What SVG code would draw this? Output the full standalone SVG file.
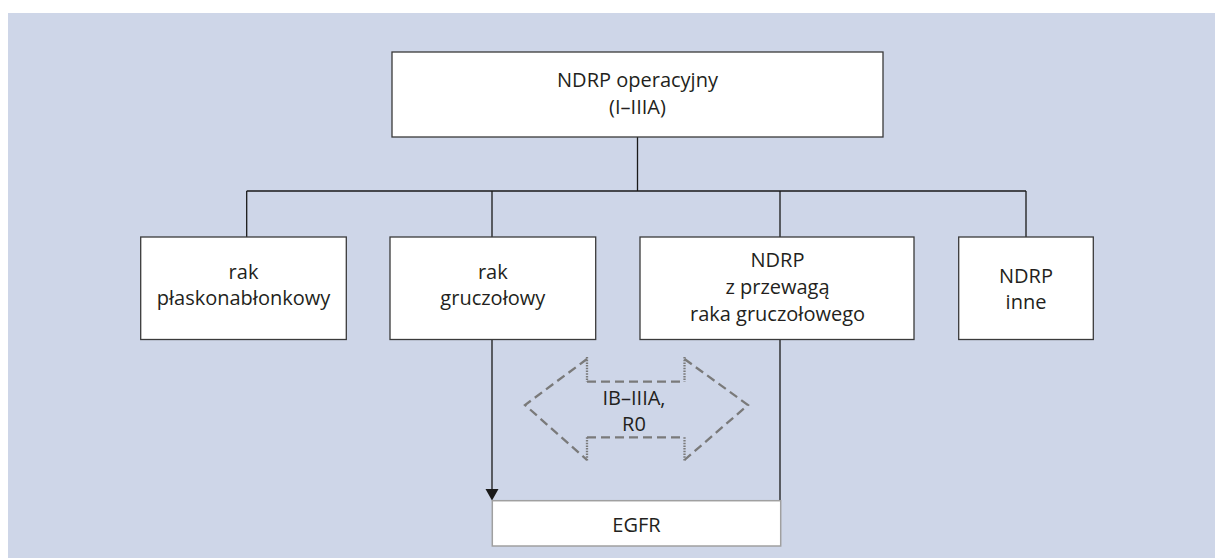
<svg xmlns="http://www.w3.org/2000/svg" width="1215" height="558" viewBox="0 0 1215 558">
<defs>
<style>
.box{fill:#fff;stroke:#3a3a3a;stroke-width:1.3}
.egfr{fill:#fff;stroke:#a0a0a0;stroke-width:1.5}
.t{font-family:"Open Sans","Noto Sans",sans-serif;font-size:20px;fill:#231f20;text-anchor:middle}
.ln{fill:none;stroke:#1a1a1a;stroke-width:1.3}
.dash{fill:none;stroke:#7a7a7a;stroke-width:2.3;stroke-dasharray:9 5}
.dot{fill:none;stroke:#7a7a7a;stroke-width:2.3;stroke-dasharray:1.5 1.2}
</style>
<marker id="ah" markerWidth="13" markerHeight="12" refX="6.5" refY="11" orient="auto-start-reverse" markerUnits="userSpaceOnUse" viewBox="0 0 13 12">
<path d="M0,0 L13,0 L6.5,11 Z" fill="#1a1a1a"/>
</marker>
</defs>
<rect x="8" y="13" width="1207" height="545" fill="#ced6e8"/>
<g id="connectors">
<path class="ln" d="M637.5,137 V191 M246.7,191 H1026 M246.7,191 V237 M492,191 V237 M780,191 V237 M1026,191 V237"/>
<path class="ln" d="M780,339.5 V500.7"/>
<line x1="492" y1="339.5" x2="492" y2="489" class="ln"/>
<path d="M485.5,489 L498.5,489 L492,500.5 Z" fill="#1a1a1a"/>
</g>
<g id="root">
<rect class="box" x="392" y="52" width="491" height="85"/>
<text class="t" x="637.5" y="86.7">NDRP operacyjny</text>
<text class="t" x="637.5" y="114">(I–IIIA)</text>
</g>
<g id="n1">
<rect class="box" x="140.7" y="237" width="205.6" height="102.5"/>
<text class="t" x="243.5" y="278.5">rak</text>
<text class="t" x="243.5" y="305">płaskonabłonkowy</text>
</g>
<g id="n2">
<rect class="box" x="390" y="237" width="205.7" height="102.5"/>
<text class="t" x="492.8" y="278.5">rak</text>
<text class="t" x="492.8" y="305">gruczołowy</text>
</g>
<g id="n3">
<rect class="box" x="640" y="237" width="274" height="102.5"/>
<text class="t" x="777.5" y="266.7">NDRP</text>
<text class="t" x="777.5" y="293.5">z przewagą</text>
<text class="t" x="777.5" y="320.5">raka gruczołowego</text>
</g>
<g id="n4">
<rect class="box" x="958.7" y="237" width="134.6" height="102.5"/>
<text class="t" x="1026" y="283">NDRP</text>
<text class="t" x="1026" y="308.5">inne</text>
</g>
<g id="egfr">
<rect class="egfr" x="492.3" y="500.7" width="288.4" height="45.3"/>
<text class="t" x="636.5" y="531.5">EGFR</text>
</g>
<g id="stage">
<path class="dash" d="M587,359 L525,405 L587,460"/>
<path class="dash" d="M684.5,359 L748,405 L684.5,460"/>
<path class="dash" d="M587,381.7 H684.5 M587,437.3 H684.5"/>
<path class="dot" d="M587,357 V381.7 M684.5,357 V381.7 M587,437.3 V461.5 M684.5,437.3 V461.5"/>
<text class="t" x="634" y="404.5">IB–IIIA,</text>
<text class="t" x="634" y="431">R0</text>
</g>
</svg>
